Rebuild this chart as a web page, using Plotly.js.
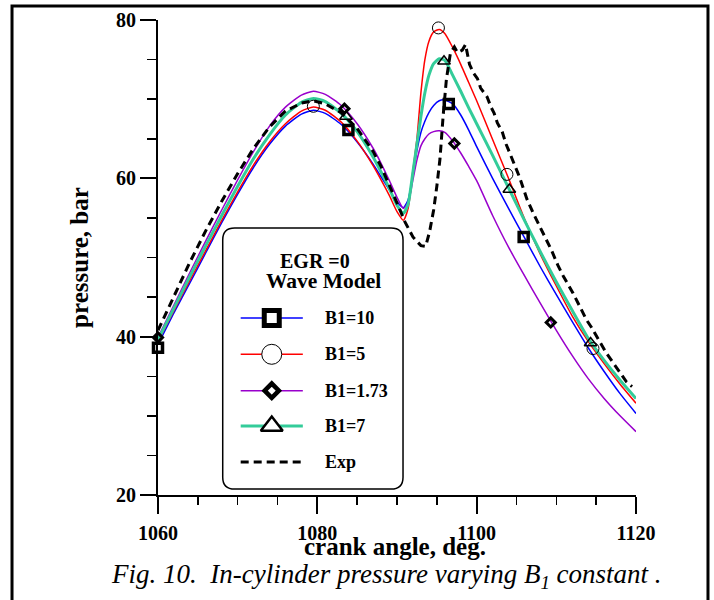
<!DOCTYPE html>
<html>
<head>
<meta charset="utf-8">
<script src="https://cdn.plot.ly/plotly-3.0.1.min.js"></script>
<style>html,body{margin:0;padding:0;background:#fff;}#chart{width:714px;height:600px;}</style>
</head>
<body>
<div id="chart"></div>
<script>
// ---- data ----
const xModel = [1060,1062,1064,1066,1068,1070,1072,1074,1076,1078,1079.5,1081,1083,1085,1087,1088,1089,1090,1090.8,1091.4,1092,1092.5,1093,1093.5,1094,1094.6,1095.3,1096,1097,1098,1099,1100,1102,1104,1106,1108,1110,1112,1114,1116,1118,1120];
const pB10  = [39.0,43.0,46.8,50.6,54.4,58.0,61.4,64.3,66.6,68.1,68.6,68.2,66.8,64.6,61.8,60.2,58.6,57.0,56.3,57.3,60.5,63.5,65.8,67.2,68.3,69.2,69.8,69.9,69.4,68.0,66.1,64.0,60.0,56.2,52.5,48.8,45.3,41.9,38.6,35.6,32.8,30.3];
const pB5   = [39.4,43.3,47.1,50.9,54.7,58.3,61.7,64.6,66.9,68.5,69.0,68.6,67.1,64.7,61.6,59.8,57.9,55.8,54.7,56.2,61.0,65.0,70.8,75.0,77.3,78.5,78.8,78.3,76.5,74.4,72.1,69.8,64.9,60.0,54.9,50.4,46.4,42.6,39.4,36.6,34.0,31.6];
const pB173 = [39.9,44.0,48.1,52.1,56.0,59.8,63.4,66.6,69.0,70.5,71.0,70.6,69.2,66.9,63.8,61.9,59.8,57.6,56.2,56.9,59.8,62.3,64.1,65.0,65.6,65.9,66.0,65.8,64.7,63.2,61.5,59.7,55.3,51.3,47.7,44.2,40.8,37.6,34.7,32.2,30.0,28.0];
const pB7   = [39.6,43.6,47.6,51.5,55.3,59.0,62.5,65.5,68.0,69.6,70.1,69.7,68.2,65.9,62.7,60.8,58.8,56.6,55.6,56.8,60.8,64.3,67.8,70.8,73.0,74.5,75.1,74.9,73.0,71.0,68.9,66.9,62.9,58.8,54.7,50.7,46.9,43.3,39.8,37.0,34.5,32.2];
const xExp = [1060,1062,1064,1066,1068,1070,1072,1074,1076,1078,1079.5,1081,1083,1085,1087,1088,1089,1090,1091,1092,1093,1093.6,1094.1,1094.6,1095,1095.4,1095.8,1096.2,1096.7,1097.2,1097.6,1098.2,1098.6,1099.1,1099.6,1100.1,1100.5,1101.3,1101.8,1102.2,1102.6,1103.2,1103.7,1104.3,1104.8,1105.4,1106.3,1107.1,1107.9,1108.8,1109.4,1110.2,1110.9,1112.1,1113,1113.8,1114.4,1115.1,1116.3,1117.2,1118,1118.8,1119.5];
const pExp = [40.8,45.2,49.4,53.4,57.1,60.6,63.8,66.5,68.5,69.5,69.8,69.4,68.3,66.3,63.4,61.5,59.3,56.9,54.5,52.6,51.5,51.4,53.3,56.0,59.0,62.5,68.0,72.5,75.8,76.6,75.9,76.2,76.9,74.4,73.3,72.6,71.4,70.3,69.0,68.2,67.0,65.9,64.3,62.7,61.6,60.1,57.4,55.6,53.9,52.2,50.9,49.0,47.6,45.5,43.8,42.1,41.2,40.0,37.9,36.6,35.4,34.3,33.7];
// sparse symbols placed on the model curves
const xMkB10  = [1060, 1083.9, 1096.5, 1105.9];
const yMkB10  = [38.6, 66.1, 69.4, 52.6];
const xMkB5   = [1079.5, 1095.2, 1103.8, 1114.6];
const yMkB5   = [69.1, 79.0, 60.5, 38.5];
const xMkB173 = [1060, 1083.4, 1097.2, 1109.3];
const yMkB173 = [39.9, 68.8, 64.4, 41.8];
const xMkB7   = [1083.6, 1095.9, 1104.1, 1114.3];
const yMkB7   = [67.8, 74.8, 58.6, 39.2];
const seriesNames = ['B1=10', 'B1=5', 'B1=1.73', 'B1=7', 'Exp'];
const legendTitle = ['EGR =0', 'Wave Model'];
const xTickVals = [1060, 1080, 1100, 1120];
const yTickVals = [20, 40, 60, 80];
const xTitle = 'crank angle, deg.';
const yTitle = 'pressure, bar';
const caption = 'Fig. 10.  In-cylinder pressure varying B<sub>1</sub> constant .';

// ---- styles ----
const FONT = 'Liberation Serif, Times New Roman, serif';
const cBlue = '#0000ff', cRed = '#ff0000', cPurple = '#9900cc', cTeal = '#33cc99';
const styles = [
  {color: cBlue, width: 1.5, sym: 'square', mSize: 9, mLine: 3.5, lSize: 15, lLine: 5},
  {color: cRed, width: 1.5, sym: 'circle', mSize: 12, mLine: 1, lSize: 20, lLine: 1},
  {color: cPurple, width: 1.5, sym: 'diamond', mSize: 7, mLine: 3, lSize: 11, lLine: 4.5},
  {color: cTeal, width: 3, sym: 'triangle-up', mSize: 11, mLine: 1.5, lSize: 19, lLine: 2.5}
];
const modelY = [pB10, pB5, pB173, pB7];
const mkX = [xMkB10, xMkB5, xMkB173, xMkB7];
const mkY = [yMkB10, yMkB5, yMkB173, yMkB7];

const traces = [];
modelY.forEach((ys, i) => {
  traces.push({x: xModel, y: ys, type: 'scatter', mode: 'lines', name: seriesNames[i],
    line: {color: styles[i].color, width: styles[i].width, shape: 'spline', smoothing: 0.6},
    showlegend: false, hoverinfo: 'skip'});
});
traces.push({x: xExp, y: pExp, type: 'scatter', mode: 'lines', name: 'Exp',
  line: {color: '#000', width: 3, dash: '8px,5px'}, showlegend: false, hoverinfo: 'skip'});
modelY.forEach((ys, i) => {
  traces.push({x: mkX[i], y: mkY[i], type: 'scatter', mode: 'markers', showlegend: false,
    marker: {symbol: styles[i].sym + '-open', size: styles[i].mSize, color: '#000',
      line: {color: '#000', width: styles[i].mLine}}, hoverinfo: 'skip', cliponaxis: false});
});

// ---- hand-drawn key on an overlay axis pair (fractions of the plot area) ----
const keyRows = [0.3726, 0.2962, 0.2196, 0.1453, 0.0695];
const keyX0 = 0.173, keyX1 = 0.303, keyXm = 0.238, keyTextX = 0.345;
seriesNames.forEach((nm, i) => {
  const isExp = i === 4;
  traces.push({x: [keyX0, keyX1], y: [keyRows[i], keyRows[i]], xaxis: 'x2', yaxis: 'y2',
    type: 'scatter', mode: 'lines', showlegend: false, hoverinfo: 'skip',
    line: isExp ? {color: '#000', width: 3, dash: '8px,5px'} : {color: styles[i].color, width: styles[i].width}});
  if (!isExp) {
    traces.push({x: [keyXm], y: [keyRows[i]], xaxis: 'x2', yaxis: 'y2', type: 'scatter', mode: 'markers',
      showlegend: false, hoverinfo: 'skip',
      marker: {symbol: styles[i].sym, size: styles[i].lSize, color: '#fff',
        line: {color: '#000', width: styles[i].lLine}}});
  }
});

const annotations = [];
seriesNames.forEach((nm, i) => {
  annotations.push({xref: 'paper', yref: 'paper', x: keyTextX, y: keyRows[i], xanchor: 'left', yanchor: 'middle',
    text: nm, showarrow: false, font: {family: FONT, size: 18, color: '#000', weight: 'bold'}});
});
annotations.push({xref: 'paper', yref: 'paper', x: 0.328, y: 0.4926, xanchor: 'center', yanchor: 'middle',
  text: legendTitle[0], showarrow: false, font: {family: FONT, size: 20, color: '#000', weight: 'bold'}});
annotations.push({xref: 'paper', yref: 'paper', x: 0.347, y: 0.4505, xanchor: 'center', yanchor: 'middle',
  text: legendTitle[1], showarrow: false, font: {family: FONT, size: 21.5, color: '#000', weight: 'bold'}});
// x-axis title placed as an annotation for exact position
annotations.push({xref: 'paper', yref: 'paper', x: 0.4958, y: -0.1075, xanchor: 'center', yanchor: 'middle',
  text: xTitle, showarrow: false, font: {family: FONT, size: 25, color: '#000', weight: 'bold'}});
annotations.push({xref: 'paper', yref: 'paper', x: -0.1025, y: -0.170, xanchor: 'left', yanchor: 'middle',
  text: caption, showarrow: false, font: {family: FONT, size: 27, color: '#000', style: 'italic'}});

function roundRect(x0, y0, x1, y1, rx, ry) {
  return `M${x0+rx},${y1} L${x1-rx},${y1} Q${x1},${y1} ${x1},${y1-ry} L${x1},${y0+ry} Q${x1},${y0} ${x1-rx},${y0} ` +
         `L${x0+rx},${y0} Q${x0},${y0} ${x0},${y0+ry} L${x0},${y1-ry} Q${x0},${y1} ${x0+rx},${y1} Z`;
}
const shapes = [
  {type: 'path', xref: 'paper', yref: 'paper', path: roundRect(0.1354, 0.0126, 0.5126, 0.5621, 0.025, 0.025),
    line: {color: '#000', width: 1.5}, fillcolor: 'rgba(0,0,0,0)', layer: 'above'},
  {type: 'path', xref: 'paper', yref: 'paper', path: 'M-0.3054,-0.25 L-0.3054,1.0295 L1.1506,1.0295 L1.1506,-0.25',
    line: {color: '#000', width: 3}, fillcolor: 'rgba(0,0,0,0)', layer: 'above'}
];

const tickFont = {family: FONT, size: 20, color: '#000', weight: 'bold'};
const layout = {
  width: 714, height: 600,
  margin: {l: 158, r: 78, t: 20, b: 105},
  paper_bgcolor: '#fff', plot_bgcolor: '#fff',
  showlegend: false,
  xaxis: {range: [1060, 1120], tickvals: xTickVals, ticktext: xTickVals.map(String),
    showgrid: false, zeroline: false, showline: true, linecolor: '#000', linewidth: 2,
    ticks: 'outside', ticklen: 17, tickwidth: 2, tickcolor: '#000', tickfont: tickFont, ticklabelstandoff: 2,
    minor: {dtick: 5, tick0: 1060, ticks: 'outside', ticklen: 8, tickwidth: 1.5, tickcolor: '#000', showgrid: false},
    automargin: false},
  yaxis: {range: [20, 80], tickvals: yTickVals, ticktext: yTickVals.map(String),
    showgrid: false, zeroline: false, showline: true, linecolor: '#000', linewidth: 2,
    ticks: 'outside', ticklen: 16, tickwidth: 2, tickcolor: '#000', tickfont: tickFont,
    minor: {dtick: 5, tick0: 20, ticks: 'outside', ticklen: 9, tickwidth: 1.5, tickcolor: '#000', showgrid: false},
    title: {text: yTitle, font: {family: FONT, size: 25, color: '#000', weight: 'bold'}, standoff: 20},
    automargin: false},
  xaxis2: {overlaying: 'x', anchor: 'y2', range: [0, 1], visible: false, fixedrange: true},
  yaxis2: {overlaying: 'y', anchor: 'x2', range: [0, 1], visible: false, fixedrange: true},
  annotations: annotations,
  shapes: shapes
};
Plotly.newPlot('chart', traces, layout, {displayModeBar: false, staticPlot: true});
</script>
</body>
</html>
